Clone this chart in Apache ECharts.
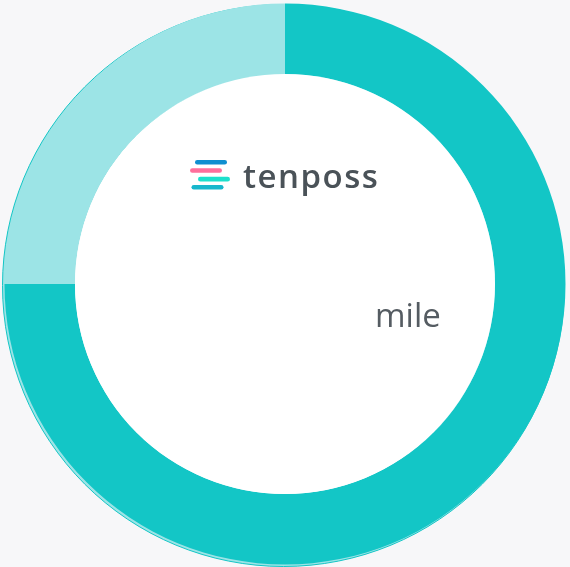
<!DOCTYPE html>
<html><head><meta charset="utf-8">
<script src="https://cdn.jsdelivr.net/npm/echarts@6/dist/echarts.min.js"></script>
<style>html,body{margin:0;padding:0;background:#f7f7f9}#c{width:570px;height:567px}</style>
</head><body><div id="c"></div>
<script>
const categories = ['mile', 'remaining'];
const values = [75, 25];
const colors = ['#13c6c6', '#9ce4e6'];
const brandText = 'tenposs';
const unitText = 'mile';

function spacedText(str, x, top, font, fill, spacing) {
  const ctx = document.createElement('canvas').getContext('2d');
  ctx.font = font;
  const out = [];
  let cx = x;
  for (const ch of str) {
    out.push({ type: 'text', z: 10, x: cx, y: top, style: { text: ch, font: font, fill: fill } });
    cx += ctx.measureText(ch).width + spacing;
  }
  return out;
}

const chart = echarts.init(document.getElementById('c'));
chart.setOption({
  backgroundColor: '#f7f7f9',
  animation: false,
  series: [
    {
      type: 'pie', silent: true, z: 1,
      center: [283.5, 285.5], radius: [210, 281],
      label: { show: false }, labelLine: { show: false },
      itemStyle: { color: '#9ce4e6', borderColor: '#13c6c6', borderWidth: 1 },
      data: [{ name: 'bg', value: 1 }]
    },
    {
      type: 'pie', z: 2,
      center: [285, 284], radius: [210, 280.5],
      startAngle: 90, clockwise: true,
      label: { show: false }, labelLine: { show: false },
      data: categories.map((c, i) => ({ name: c, value: values[i], itemStyle: { color: colors[i] } }))
    },
    {
      type: 'pie', silent: true, z: 3,
      center: [285, 284], radius: [0, 210],
      label: { show: false }, labelLine: { show: false },
      itemStyle: { color: '#ffffff' },
      data: [{ name: 'inner', value: 1 }]
    }
  ],
  graphic: [
    { type: 'rect', z: 10, shape: { x: 195, y: 160, width: 32, height: 4.5, r: 2.25 }, style: { fill: '#0f8fd0' } },
    { type: 'rect', z: 10, shape: { x: 190, y: 168.3, width: 32, height: 4.5, r: 2.25 }, style: { fill: '#ff6f9c' } },
    { type: 'rect', z: 10, shape: { x: 198, y: 176.8, width: 32, height: 4.8, r: 2.4 }, style: { fill: '#1de0cc' } },
    { type: 'rect', z: 10, shape: { x: 191.5, y: 185, width: 32, height: 4.5, r: 2.25 }, style: { fill: '#17b7cc' } }
  ].concat(
    spacedText(brandText, 243, 162, '600 33px "Open Sans"', '#4a5258', 1.5),
    [{ type: 'text', z: 10, left: 375, top: 301, style: { text: unitText, font: '400 33px "Open Sans"', fill: '#555c62' } }]
  )
});
</script></body></html>
